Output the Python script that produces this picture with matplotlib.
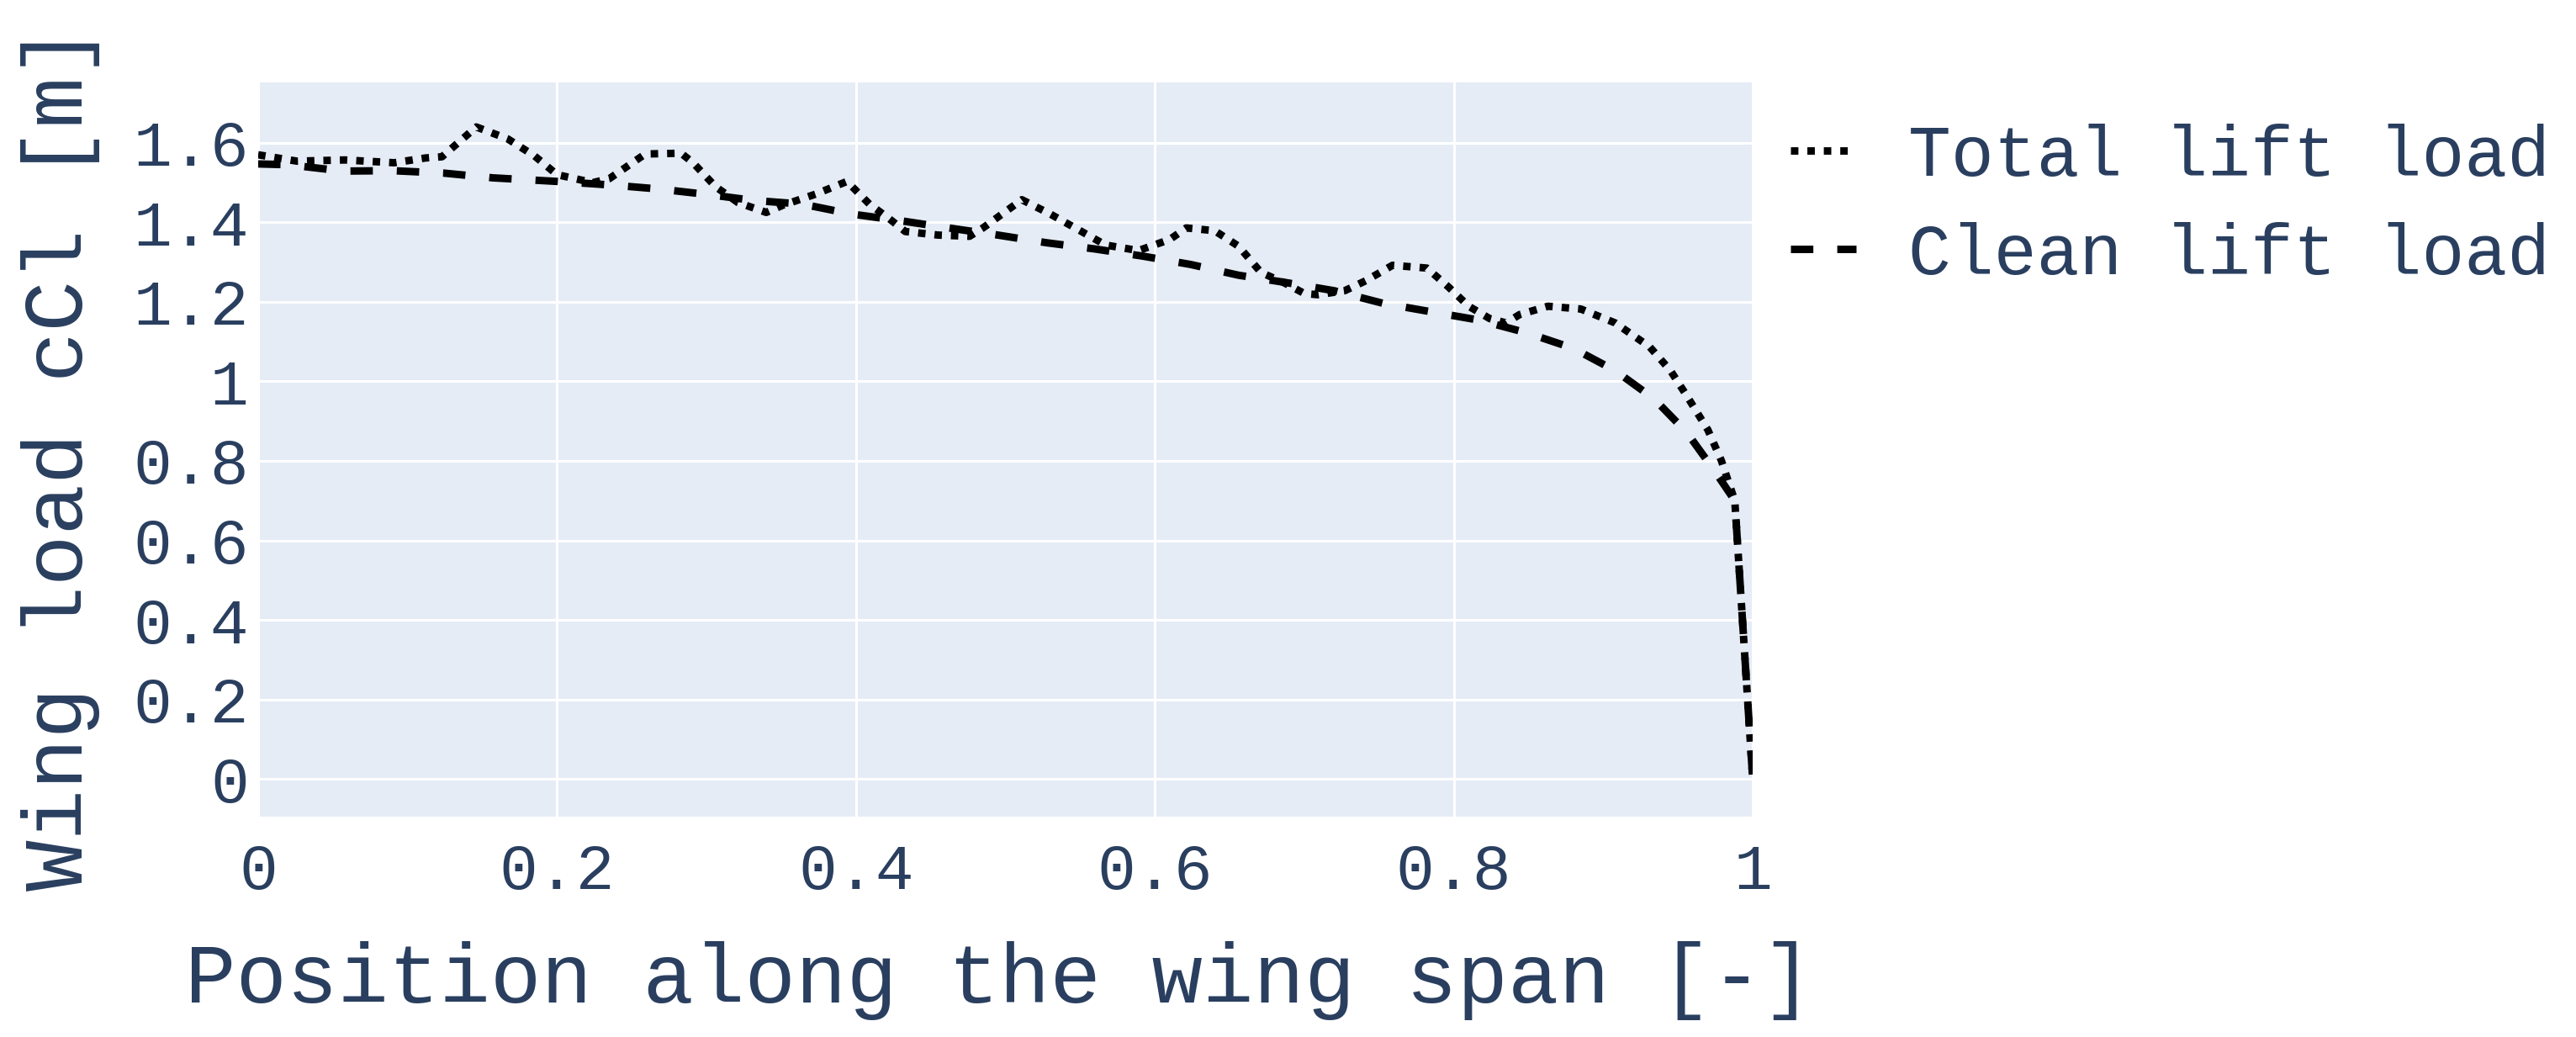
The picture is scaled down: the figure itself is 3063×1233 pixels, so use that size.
import matplotlib
matplotlib.use('Agg')
import matplotlib.pyplot as plt

# spanwise position [-] and lift load values
x_total = [0.0, 0.026, 0.058, 0.091, 0.112, 0.123, 0.146, 0.167, 0.185, 0.2,
           0.224, 0.235, 0.259, 0.283, 0.291, 0.306, 0.321, 0.34, 0.351, 0.373,
           0.394, 0.409, 0.422, 0.433, 0.455, 0.476, 0.485, 0.511, 0.53, 0.55,
           0.567, 0.589, 0.61, 0.621, 0.64, 0.656, 0.671, 0.686, 0.7, 0.709,
           0.727, 0.741, 0.759, 0.782, 0.796, 0.81, 0.824, 0.835, 0.844, 0.863,
           0.885, 0.908, 0.931, 0.945, 0.956, 0.97, 0.979, 0.988, 1.0]
total_load = [1.57, 1.554, 1.557, 1.55, 1.562, 1.565, 1.64, 1.61, 1.567, 1.52,
              1.50, 1.51, 1.572, 1.574, 1.55, 1.49, 1.45, 1.425, 1.443, 1.471,
              1.503, 1.446, 1.41, 1.377, 1.368, 1.365, 1.386, 1.457, 1.421, 1.379,
              1.343, 1.329, 1.357, 1.386, 1.379, 1.34, 1.274, 1.249, 1.221, 1.218,
              1.228, 1.253, 1.292, 1.285, 1.239, 1.189, 1.158, 1.147, 1.168, 1.189,
              1.182, 1.147, 1.087, 1.027, 0.963, 0.878, 0.801, 0.70, 0.0]

x_clean = [0.0, 0.02, 0.057, 0.09, 0.124, 0.157, 0.2, 0.236, 0.268, 0.301,
           0.332, 0.364, 0.397, 0.43, 0.462, 0.495, 0.527, 0.56, 0.592, 0.624,
           0.656, 0.687, 0.72, 0.753, 0.785, 0.817, 0.849, 0.88, 0.908, 0.934,
           0.956, 0.975, 0.988, 1.0]
clean_load = [1.547, 1.545, 1.529, 1.53, 1.524, 1.512, 1.503, 1.494, 1.484, 1.47,
              1.455, 1.446, 1.421, 1.404, 1.386, 1.368, 1.349, 1.333, 1.315, 1.294,
              1.267, 1.249, 1.228, 1.196, 1.175, 1.154, 1.122, 1.083, 1.027, 0.956,
              0.871, 0.772, 0.70, 0.0]

x_ticks = [0, 0.2, 0.4, 0.6, 0.8, 1]
y_ticks = [0, 0.2, 0.4, 0.6, 0.8, 1, 1.2, 1.4, 1.6]
tick_labels_x = ['0', '0.2', '0.4', '0.6', '0.8', '1']
tick_labels_y = ['0', '0.2', '0.4', '0.6', '0.8', '1', '1.2', '1.4', '1.6']

TXT = '#2a3f5f'
plt.rcParams['font.family'] = ['Liberation Mono', 'DejaVu Sans Mono']

fig = plt.figure(figsize=(30.63, 12.33), dpi=100)
ax = fig.add_axes([0.1002, 0.2125, 0.5802, 0.708])
ax.set_facecolor('#E5ECF6')
for s in ax.spines.values():
    s.set_visible(False)

ax.plot(x_total, total_load, color='black', lw=6.4, linestyle=(0, (1.0, 1.2)),
        label='Total lift load')
ax.plot(x_clean, clean_load, color='black', lw=6.4, linestyle=(0, (3.0, 3.2)),
        label='Clean lift load')

ax.set_xlim(0, 1)
ax.set_ylim(-0.095, 1.752)
ax.set_xticks(x_ticks)
ax.set_xticklabels(tick_labels_x)
ax.set_yticks(y_ticks)
ax.set_yticklabels(tick_labels_y)
ax.grid(True, color='white', lw=2.2)
ax.set_axisbelow(True)
ax.tick_params(axis='both', length=0, labelsize=55, colors=TXT)
ax.tick_params(axis='x', pad=22)
ax.tick_params(axis='y', pad=8)

fig.text(0.388, 0.033, 'Position along the wing span [-]', fontsize=72.5,
         color=TXT, ha='center', va='baseline')
fig.text(0.032, 0.558, 'Wing load cCl [m]', fontsize=72.5, color=TXT,
         rotation=90, rotation_mode='anchor', ha='center', va='baseline')

fig.legend(loc='upper left', bbox_to_anchor=(0.695, 0.881), frameon=False,
           fontsize=61, labelcolor=TXT, handlelength=0.92, handletextpad=0.74,
           borderpad=0, borderaxespad=0, labelspacing=0.44)

fig.savefig('out.png', dpi=100)
